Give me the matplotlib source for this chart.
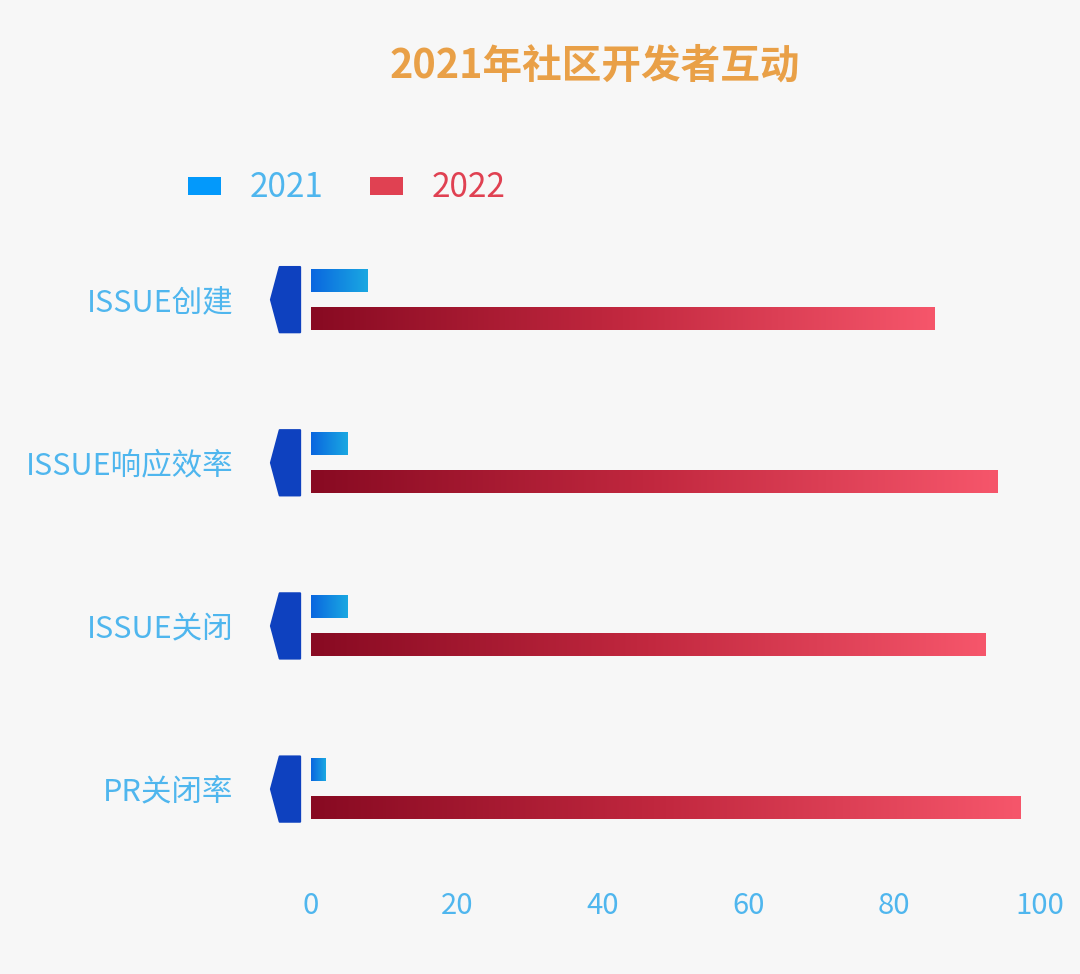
import numpy as np
import matplotlib
matplotlib.use("Agg")
import matplotlib.pyplot as plt
from matplotlib.colors import LinearSegmentedColormap
from matplotlib.patches import Patch, Polygon

plt.rcParams['font.family'] = ['Noto Sans CJK SC', 'DejaVu Sans']

# data
categories = ['ISSUE创建', 'ISSUE响应效率', 'ISSUE关闭', 'PR关闭率']
values_2021 = [7.8, 5.0, 5.0, 2.0]
values_2022 = [85.5, 94.2, 92.5, 97.3]
series_names = ['2021', '2022']
x_ticks = [0, 20, 40, 60, 80, 100]

label_color = '#4fb6ee'
bg = '#f7f7f7'
blue_cmap = LinearSegmentedColormap.from_list('b', ['#0a66df', '#1aa8e2'])
red_cmap = LinearSegmentedColormap.from_list('r', ['#880a22', '#c2283f', '#f6566b'])

fig = plt.figure(figsize=(10.8, 9.74), dpi=100, facecolor=bg)
ax = fig.add_axes([0.288, 0.117, 0.675, 0.637])
ax.set_facecolor(bg)

y = np.arange(len(categories))
off = 0.117
h = 0.135

bars21 = ax.barh(y - off, values_2021, height=h, color='none', edgecolor='none')
bars22 = ax.barh(y + off, values_2022, height=h, color='none', edgecolor='none')

grad = np.linspace(0, 1, 256).reshape(1, -1)
for bars, cmap in [(bars21, blue_cmap), (bars22, red_cmap)]:
    for b in bars:
        x0, y0 = b.get_x(), b.get_y()
        ax.imshow(grad, cmap=cmap, aspect='auto', interpolation='bicubic',
                  extent=[x0, x0 + b.get_width(), y0, y0 + b.get_height()],
                  origin='lower', zorder=2)

# blue pointer marks left of each row
for yi in y:
    pts = [(-1.5, yi - 0.2), (-4.3, yi - 0.2), (-5.5, yi), (-4.3, yi + 0.2), (-1.5, yi + 0.2)]
    ax.add_patch(Polygon(pts, closed=True, facecolor='#0e41bf', edgecolor='#0e41bf',
                         joinstyle='round', lw=1.5, clip_on=False, zorder=3))

ax.set_xlim(0, 100)
ax.set_ylim(3.435, -0.368)
ax.set_xticks(x_ticks)
ax.set_xticklabels([str(t) for t in x_ticks], fontweight='medium')
ax.set_yticks(y)
ax.set_yticklabels(categories, fontweight='medium')
ax.tick_params(axis='x', length=0, pad=22, labelsize=21, labelcolor=label_color)
ax.tick_params(axis='y', length=0, pad=56, labelsize=22, labelcolor=label_color)
for s in ax.spines.values():
    s.set_visible(False)

handles = [Patch(facecolor='#0399fb', edgecolor='none'), Patch(facecolor='#e04152', edgecolor='none')]
ax.legend(handles, series_names, loc='center left', bbox_to_anchor=(0.174, 0.807),
          bbox_transform=fig.transFigure, ncol=2, frameon=False, fontsize=24,
          handlelength=1.0, handleheight=0.45, handletextpad=0.85, columnspacing=1.4,
          borderpad=0, borderaxespad=0, labelcolor=['#4fb6ee', '#e04152'])

fig.text(0.551, 0.932, '2021年社区开发者互动', ha='center', va='center',
         fontsize=28.5, fontweight='bold', color='#e9a047')

fig.savefig('out.png', dpi=100, facecolor=bg)
